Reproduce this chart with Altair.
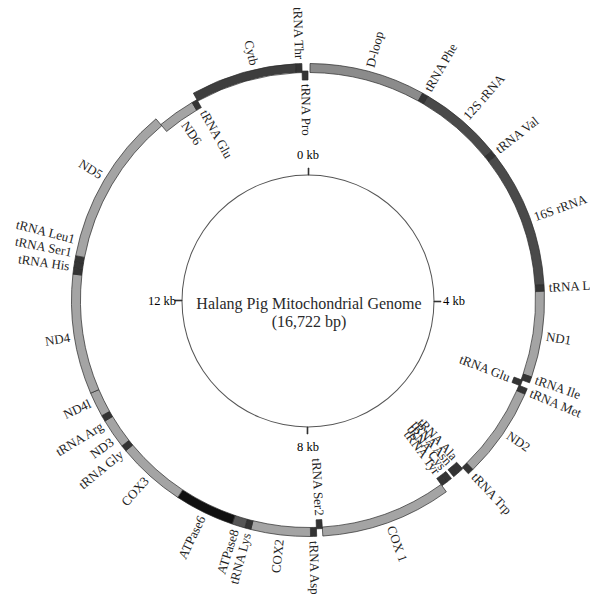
import math
import altair as alt
import pandas as pd

GENOME_BP = 16722

# ---- gene annotation (bp positions) ----
gene_name = ["D-loop", "tRNA Phe", "12S rRNA", "tRNA Val", "16S rRNA", "tRNA Leu2", "ND1",
             "tRNA Ile", "tRNA Gln", "tRNA Met", "ND2", "tRNA Trp", "tRNA Ala", "tRNA Asn",
             "tRNA Cys", "tRNA Tyr", "COX1", "tRNA Ser2", "tRNA Asp", "COX2", "tRNA Lys",
             "ATPase8", "ATPase6", "COX3", "tRNA Gly", "ND3", "tRNA Arg", "ND4L", "ND4",
             "tRNA His", "tRNA Ser1", "tRNA Leu1", "ND5", "ND6", "tRNA Glu", "Cytb",
             "tRNA Thr", "tRNA Pro"]
gene_start = [23, 1347, 1417, 2369, 2439, 4009, 4083, 5063, 5133, 5203, 5272, 6308, 6387, 6457,
              6559, 6628, 6698, 8194, 8263, 8333, 9011, 9081, 9230, 9913, 10702, 10772, 11111,
              11181, 11464, 12834, 12904, 12974, 13043, 14864, 15310, 15375, 16583, 16653]
gene_end = [1347, 1417, 2369, 2439, 4009, 4083, 5063, 5133, 5203, 5272, 6308, 6378, 6457, 6526,
            6628, 6698, 8194, 8263, 8333, 9011, 9081, 9230, 9913, 10702, 10772, 11111, 11181,
            11464, 12834, 12904, 12974, 13043, 14864, 15310, 15375, 16583, 16653, 16722]
gene_strand = ["H", "H", "H", "H", "H", "H", "H", "H", "L", "H", "H", "H", "L", "L",
               "L", "L", "H", "L", "H", "H", "H", "H", "H", "H", "H", "H", "H", "H", "H",
               "H", "H", "H", "H", "L", "L", "H", "H", "L"]
gene_kind = ["dloop", "trna", "rrna", "trna", "rrna", "trna", "protein", "trna", "trna", "trna",
             "protein", "trna", "trna", "trna", "trna", "trna", "protein", "trna", "trna",
             "protein", "trna", "atp8", "atp6", "protein", "trna", "protein", "trna", "protein",
             "protein", "trna", "trna", "trna", "protein", "protein", "trna", "cytb", "trna", "trna"]

# ---- labels ----
label_text = ["D-loop", "tRNA Phe", "12S rRNA", "tRNA Val", "16S rRNA", "tRNA Leu", "ND1",
              "tRNA Ile", "tRNA Met", "tRNA Glu", "ND2", "tRNA Trp", "tRNA Ala", "tRNA Asn",
              "tRNA Cys", "tRNA Tyr", "COX 1", "tRNA Ser2", "tRNA Asp", "COX2", "tRNA Lys",
              "ATPase8", "ATPase6", "COX3", "tRNA Gly", "ND3", "tRNA Arg", "ND4l", "ND4",
              "tRNA His", "tRNA Ser1", "tRNA Leu1", "ND5", "ND6", "tRNA Glu", "Cytb",
              "tRNA Thr", "tRNA Pro"]
label_bp = [697, 1384, 1904, 2406, 3252, 4046, 4589, 5080, 5235, 5165, 5760, 6345, 6370, 6465,
            6560, 6655, 7432, 8226, 8300, 8672, 9039, 9178, 9569, 10312, 10711, 10879, 11083,
            11362, 12123, 12913, 13066, 13215, 13981, 15096, 15375, 16118, 16625, 16690]
label_side = ["out", "out", "out", "out", "out", "out", "out", "out", "out", "in", "out", "out",
              "in", "in", "in", "in", "out", "in", "out", "out", "out", "out", "out", "out",
              "out", "out", "out", "out", "out", "out", "out", "out", "out", "in", "in", "out",
              "out", "in"]

ruler_kb = [0, 4, 8, 12]
ruler_text = ["0 kb", "4 kb", "8 kb", "12 kb"]
title_lines = "Halang Pig Mitochondrial Genome\n(16,722 bp)"

kind_domain = ["dloop", "trna", "rrna", "protein", "atp8", "atp6", "cytb"]
kind_colors = ["#8b8b8b", "#343434", "#4a4a4a", "#a4a4a4", "#565656", "#101010", "#3e3e3e"]

FONT = "Liberation Serif"
CX, CY = 300, 292

genes = pd.DataFrame({"name": gene_name, "start": gene_start, "end": gene_end,
                      "strand": gene_strand, "kind": gene_kind})
labels = pd.DataFrame({"text": label_text, "pos": label_bp, "side": label_side})
ruler = pd.DataFrame({"kb": ruler_kb, "text": ruler_text})
circle = pd.DataFrame({"a": [0], "b": [16]})
title = pd.DataFrame({"t": [title_lines]})

gscale = alt.Scale(domain=[0, GENOME_BP], range=[0, 2 * math.pi])
rscale = alt.Scale(domain=[0, 16], range=[0, 2 * math.pi])

ring = alt.Chart(genes).transform_calculate(
    r1="datum.strand == 'H' ? 236.5 : 229",
    r2="datum.strand == 'H' ? 227.5 : 220",
).mark_arc(stroke="#2a2a2a", strokeWidth=0.7).encode(
    x=alt.value(CX), y=alt.value(CY),
    theta=alt.Theta("start:Q", scale=gscale),
    theta2="end:Q",
    radius=alt.Radius("r1:Q", scale=None),
    radius2=alt.Radius2("r2:Q"),
    color=alt.Color("kind:N", scale=alt.Scale(domain=kind_domain, range=kind_colors), legend=None),
)

lab_base = alt.Chart(labels).transform_calculate(
    deg="datum.pos / %d * 360" % GENOME_BP,
).transform_calculate(
    right="datum.deg < 180",
).transform_calculate(
    ang="datum.right ? datum.deg - 90 : datum.deg - 270",
    lr="datum.side == 'out' ? 241 : 216",
    al="((datum.side == 'out') == datum.right) ? 'left' : 'right'",
)

def lab_layer(al):
    return lab_base.transform_filter(alt.datum.al == al).mark_text(
        align=al, baseline="middle", font=FONT, fontSize=13, color="#1e1e1e"
    ).encode(
        x=alt.value(CX), y=alt.value(CY),
        theta=alt.Theta("pos:Q", scale=gscale),
        radius=alt.Radius("lr:Q", scale=None),
        angle=alt.Angle("ang:Q", scale=None),
        text="text:N",
    )

inner = alt.Chart(circle).mark_arc(color="#555555").encode(
    x=alt.value(CX), y=alt.value(CY + 1),
    theta=alt.Theta("a:Q", scale=rscale), theta2="b:Q",
    radius=alt.value(126.5), radius2=alt.value(125.5),
)

ticks = alt.Chart(ruler).transform_calculate(k2="datum.kb + 0.02").mark_arc(
    color="#333333", stroke="#333333", strokeWidth=0.6
).encode(
    x=alt.value(CX), y=alt.value(CY + 1),
    theta=alt.Theta("kb:Q", scale=rscale), theta2="k2:Q",
    radius=alt.value(133), radius2=alt.value(126),
)

ruler_lab = alt.Chart(ruler).mark_text(
    align="center", baseline="middle", font=FONT, fontSize=12.5, color="#000000"
).encode(
    x=alt.value(CX), y=alt.value(CY + 1),
    theta=alt.Theta("kb:Q", scale=rscale),
    radius=alt.value(146),
    text="text:N",
)

center_title = alt.Chart(title).mark_text(
    align="center", baseline="middle", font=FONT, fontSize=16, lineBreak="\n",
    lineHeight=18, color="#2a2a2a"
).encode(x=alt.value(CX + 1), y=alt.value(CY + 4), text="t:N")

chart = alt.layer(
    ring, lab_layer("left"), lab_layer("right"), inner, ticks, ruler_lab, center_title
).resolve_scale(theta="independent").properties(
    width=582, height=586, padding=0,
    autosize=alt.AutoSizeParams(type="none"),
).configure_view(stroke=None)

chart.save("out.html", embed_options={"renderer": "svg", "actions": False})
